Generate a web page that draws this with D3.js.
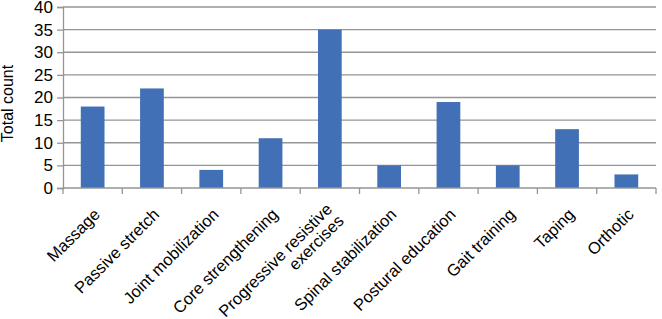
<!DOCTYPE html>
<html>
<head>
<meta charset="utf-8">
<script src="https://cdn.jsdelivr.net/npm/d3@7"></script>
<style>
  body { margin: 0; background: #fff; }
  text { font-family: 'Liberation Sans', Arial, sans-serif; fill: #000; }
</style>
</head>
<body>
<div id="chart"></div>
<script>
// Data
const categories = ['Massage', 'Passive stretch', 'Joint mobilization', 'Core strengthening',
  'Progressive resistive\nexercises', 'Spinal stabilization', 'Postural education',
  'Gait training', 'Taping', 'Orthotic'];
const counts = [18, 22, 4, 11, 35, 5, 19, 5, 13, 3];
const yTicks = [0, 5, 10, 15, 20, 25, 30, 35, 40];

const W = 662, H = 319;
const margin = { l: 63, r: 6, t: 7, b: 131 };
const width = W - margin.l - margin.r;
const height = H - margin.t - margin.b;

const data = categories.map((c, i) => ({ cat: c, value: counts[i] }));

const svg = d3.select('#chart').append('svg')
  .attr('width', W).attr('height', H)
  .append('g')
  .attr('transform', `translate(${margin.l}, ${margin.t})`);

const x = d3.scaleBand(categories, [0, width]);
const xBar = d3.scaleBand(categories, [0, width]).paddingInner(0.6).paddingOuter(0.3);
const y = d3.scaleLinear([0, 40], [height, 0]);

// gridlines
svg.append('g')
  .selectAll('line')
  .data(yTicks.slice(1))
  .join('line')
  .attr('x1', 0).attr('x2', width)
  .attr('y1', (d) => y(d)).attr('y2', (d) => y(d))
  .attr('stroke', '#959595').attr('stroke-width', 1.3);

// y axis
const yAxis = svg.append('g')
  .call(d3.axisLeft(y).tickValues(yTicks).tickSize(6).tickPadding(4));
yAxis.select('.domain').attr('stroke', '#959595').attr('stroke-width', 1.3);
yAxis.selectAll('.tick line').attr('stroke', '#959595').attr('stroke-width', 1.3);
yAxis.selectAll('text').style('font-size', '17px').attr('fill', '#000');

// bars
svg.append('g')
  .selectAll('rect')
  .data(data)
  .join('rect')
  .attr('x', (d) => xBar(d.cat))
  .attr('y', (d) => y(d.value))
  .attr('width', xBar.bandwidth())
  .attr('height', (d) => y(0) - y(d.value))
  .attr('fill', '#4170b6');

// x axis line + ticks at category boundaries
const xg = svg.append('g').attr('transform', `translate(0, ${height})`);
xg.append('line').attr('x1', 0).attr('x2', width)
  .attr('stroke', '#959595').attr('stroke-width', 1.3);
xg.selectAll('.tk')
  .data(categories.map((c) => x(c)).concat([width]))
  .join('line')
  .attr('class', 'tk')
  .attr('x1', (d) => d).attr('x2', (d) => d)
  .attr('y1', 0).attr('y2', 6)
  .attr('stroke', '#959595').attr('stroke-width', 1.3);

// category labels, rotated
const labels = xg.selectAll('.lbl')
  .data(categories)
  .join('g')
  .attr('class', 'lbl')
  .attr('transform', (d) => `translate(${x(d) + x.bandwidth() / 2}, 19) rotate(-45)`);

labels.each(function (d) {
  const lines = d.split('\n');
  const t = d3.select(this).append('text')
    .style('font-size', '16.5px')
    .attr('text-anchor', 'end');
  lines.forEach((ln, i) => {
    const dy = i === 0 ? 0.72 - 0.44 * (lines.length - 1) : 1.0;
    t.append('tspan').attr('x', 0).attr('dy', `${dy}em`).text(ln);
  });
});

// y-axis name
svg.append('text')
  .attr('transform', `translate(${-margin.l + 13}, ${height / 2 + 6}) rotate(-90)`)
  .attr('text-anchor', 'middle')
  .style('font-size', '16px')
  .text('Total count');
</script>
</body>
</html>
